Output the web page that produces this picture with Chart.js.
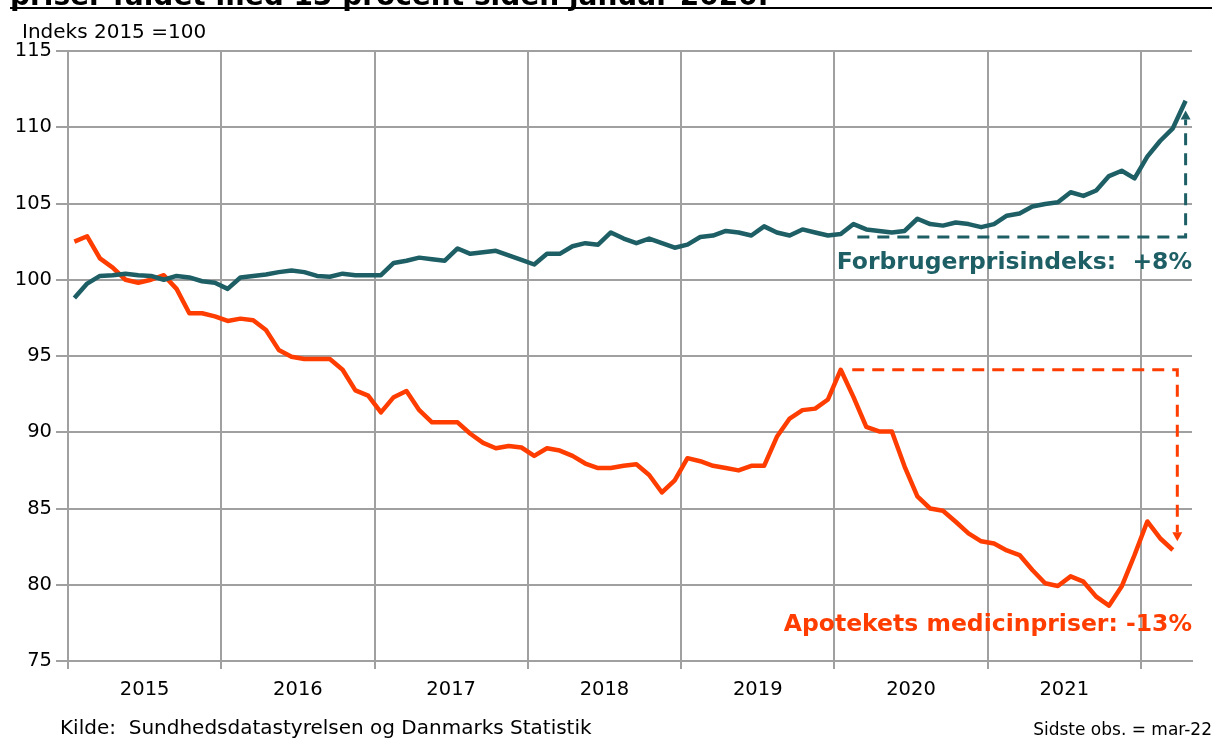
<!DOCTYPE html>
<html>
<head>
<meta charset="utf-8">
<script src="https://cdn.jsdelivr.net/npm/chart.js@4.4.1/dist/chart.umd.min.js"></script>
<style>
  html, body { margin: 0; padding: 0; background: #fff; }
  #wrap { position: relative; width: 1212px; height: 742px; overflow: hidden; font-family: "DejaVu Sans", Verdana, sans-serif; color: #000; }
  #title { position: absolute; left: 10px; top: -18px; font-weight: bold; font-size: 28px; line-height: 1; white-space: nowrap; }
  #rule { position: absolute; left: 10px; right: 0; top: 7px; height: 2px; background: #000; }
  #unit { position: absolute; left: 22px; top: 21px; font-size: 20px; line-height: 1; white-space: nowrap; }
  #source { position: absolute; left: 60px; top: 717px; font-size: 20px; line-height: 1; white-space: nowrap; }
  #last { position: absolute; right: 0; top: 721px; font-size: 17px; line-height: 1; white-space: nowrap; }
  #chart { position: absolute; left: 0; top: 0; }
</style>
</head>
<body>
<div id="wrap">
  <canvas id="chart" width="1212" height="742"></canvas>
  <div id="title">priser faldet med 13 procent siden januar 2020.</div>
  <div id="rule"></div>
  <div id="unit">Indeks 2015 =100</div>
  <div id="source">Kilde:&nbsp; Sundhedsdatastyrelsen og Danmarks Statistik</div>
  <div id="last">Sidste obs. = mar-22</div>
</div>
<script>
// --- Data (monthly, jan 2015 onwards) ---
const years = ['2015', '2016', '2017', '2018', '2019', '2020', '2021', '2022'];
const yearLabels = ['2015', '2016', '2017', '2018', '2019', '2020', '2021'];

// Forbrugerprisindeks, jan 2015 - apr 2022
const cpi = [
    98.8, 99.75, 100.25, 100.3, 100.4, 100.3, 100.25, 100.0, 100.25, 100.15, 99.9, 99.8,
    99.4, 100.15, 100.25, 100.35, 100.5, 100.6, 100.5, 100.25, 100.2, 100.4, 100.3, 100.3,
    100.3, 101.1, 101.25, 101.45, 101.35, 101.25, 102.05, 101.7, 101.8, 101.9, 101.6, 101.3,
    101.0, 101.7, 101.7, 102.2, 102.4, 102.3, 103.1, 102.7, 102.4, 102.7, 102.4, 102.1,
    102.3, 102.8, 102.9, 103.2, 103.1, 102.9, 103.5, 103.1, 102.9, 103.3, 103.1, 102.9,
    103.0, 103.65, 103.3, 103.2, 103.1, 103.2, 104.0, 103.65, 103.55, 103.75, 103.65, 103.45,
    103.65, 104.2, 104.35, 104.8, 104.97, 105.08, 105.74, 105.5, 105.85, 106.8, 107.15, 106.65,
    108.07, 109.1, 109.93, 111.74
];

// Apotekets medicinpriser, jan 2015 - mar 2022
const medicine = [
    102.5, 102.85, 101.4, 100.8, 100.0, 99.8, 100.0, 100.3, 99.4, 97.8, 97.8, 97.6,
    97.3, 97.45, 97.35, 96.7, 95.4, 94.95, 94.8, 94.8, 94.8, 94.1, 92.75, 92.4,
    91.3, 92.3, 92.7, 91.45, 90.65, 90.65, 90.65, 89.9, 89.3, 88.95, 89.1, 89.0,
    88.45, 88.95, 88.8, 88.45, 87.95, 87.65, 87.65, 87.8, 87.9, 87.2, 86.05, 86.85,
    88.3, 88.1, 87.8, 87.65, 87.5, 87.8, 87.8, 89.7, 90.9, 91.45, 91.55, 92.15,
    94.1, 92.3, 90.35, 90.05, 90.05, 87.75, 85.8, 85.0, 84.85, 84.13, 83.37, 82.85,
    82.7, 82.25, 81.95, 80.97, 80.1, 79.92, 80.55, 80.2, 79.22, 78.63, 79.9, 81.95,
    84.15, 83.05, 82.28
];

const yTicks = [75, 80, 85, 90, 95, 100, 105, 110, 115];

// annotations, in month index / index values
const cpiNote = { text: 'Forbrugerprisindeks:  +8%', fromMonth: 61.8, toMonth: 87.5, base: 102.8, tip: 111.1, labelAt: 101.1 };
const medNote = { text: 'Apotekets medicinpriser: -13%', fromMonth: 61.4, toMonth: 86.85, base: 94.1, tip: 82.85, labelAt: 77.35 };

// --- Styles ---
const teal = '#1e5f66';
const orange = '#ff3d00';
const gridGray = '#a0a0a0';
const fontFamily = '"DejaVu Sans", Verdana, sans-serif';
const monthsShown = 88;

function toPoints(values) {
    return values.map((v, i) => ({ x: i + 0.5, y: v }));
}

const notesPlugin = {
    id: 'notes',
    afterDatasetsDraw(chart) {
        const { ctx, chartArea } = chart;
        const x = chart.scales.x;
        const y = chart.scales.y;

        function drawNote(note, color) {
            const x0 = x.getPixelForValue(note.fromMonth);
            const x1 = x.getPixelForValue(note.toMonth);
            const yb = y.getPixelForValue(note.base);
            const yt = y.getPixelForValue(note.tip);
            const dir = Math.sign(yb - yt);
            const head = 9;

            ctx.save();
            ctx.strokeStyle = color;
            ctx.fillStyle = color;
            ctx.lineWidth = 3;
            ctx.setLineDash([12, 8]);
            ctx.beginPath();
            ctx.moveTo(x0, yb);
            ctx.lineTo(x1, yb);
            ctx.lineTo(x1, yt + dir * head);
            ctx.stroke();

            // arrow head
            ctx.setLineDash([]);
            ctx.beginPath();
            ctx.moveTo(x1, yt);
            ctx.lineTo(x1 - 5, yt + dir * head);
            ctx.lineTo(x1 + 5, yt + dir * head);
            ctx.closePath();
            ctx.fill();

            // label
            ctx.font = 'bold 23.5px ' + fontFamily;
            ctx.textAlign = 'right';
            ctx.textBaseline = 'middle';
            ctx.fillText(note.text, chartArea.right, y.getPixelForValue(note.labelAt));
            ctx.restore();
        }

        drawNote(cpiNote, teal);
        drawNote(medNote, orange);
    }
};

const ctx = document.getElementById('chart').getContext('2d');

new Chart(ctx, {
    type: 'line',
    data: {
        datasets: [
            {
                label: 'Forbrugerprisindeks',
                data: toPoints(cpi),
                borderColor: teal,
                borderWidth: 4.5,
                pointRadius: 0,
                tension: 0,
                borderJoinStyle: 'round'
            },
            {
                label: 'Apotekets medicinpriser',
                data: toPoints(medicine),
                borderColor: orange,
                borderWidth: 4.5,
                pointRadius: 0,
                tension: 0,
                borderJoinStyle: 'round'
            }
        ]
    },
    options: {
        responsive: false,
        animation: false,
        layout: { padding: { top: 51, right: 20, bottom: 0, left: 0 } },
        plugins: {
            legend: { display: false },
            tooltip: { enabled: false }
        },
        scales: {
            x: {
                type: 'linear',
                min: 0,
                max: monthsShown,
                afterBuildTicks: (scale) => {
                    const ticks = [];
                    years.forEach((yr, k) => {
                        ticks.push({ value: k * 12 });
                        if (k < yearLabels.length) ticks.push({ value: k * 12 + 6 });
                    });
                    scale.ticks = ticks;
                },
                afterFit: (scale) => { scale.height = 81; },
                grid: {
                    color: (c) => (c.tick && c.tick.value % 12 === 0) ? gridGray : 'rgba(0,0,0,0)',
                    lineWidth: 2,
                    tickLength: 8
                },
                border: { color: gridGray, width: 2 },
                ticks: {
                    autoSkip: false,
                    maxRotation: 0,
                    padding: 9,
                    color: '#000',
                    font: { family: fontFamily, size: 19.5 },
                    callback: (value) => value % 12 === 6 ? yearLabels[Math.floor(value / 12)] : ''
                }
            },
            y: {
                min: yTicks[0],
                max: yTicks[yTicks.length - 1],
                afterBuildTicks: (scale) => { scale.ticks = yTicks.map(v => ({ value: v })); },
                afterFit: (scale) => { scale.width = 68; },
                grid: { color: gridGray, lineWidth: 2, tickLength: 12 },
                border: { color: gridGray, width: 2 },
                ticks: {
                    padding: 4,
                    color: '#000',
                    font: { family: fontFamily, size: 19.5 }
                }
            }
        }
    },
    plugins: [notesPlugin]
});
</script>
</body>
</html>
